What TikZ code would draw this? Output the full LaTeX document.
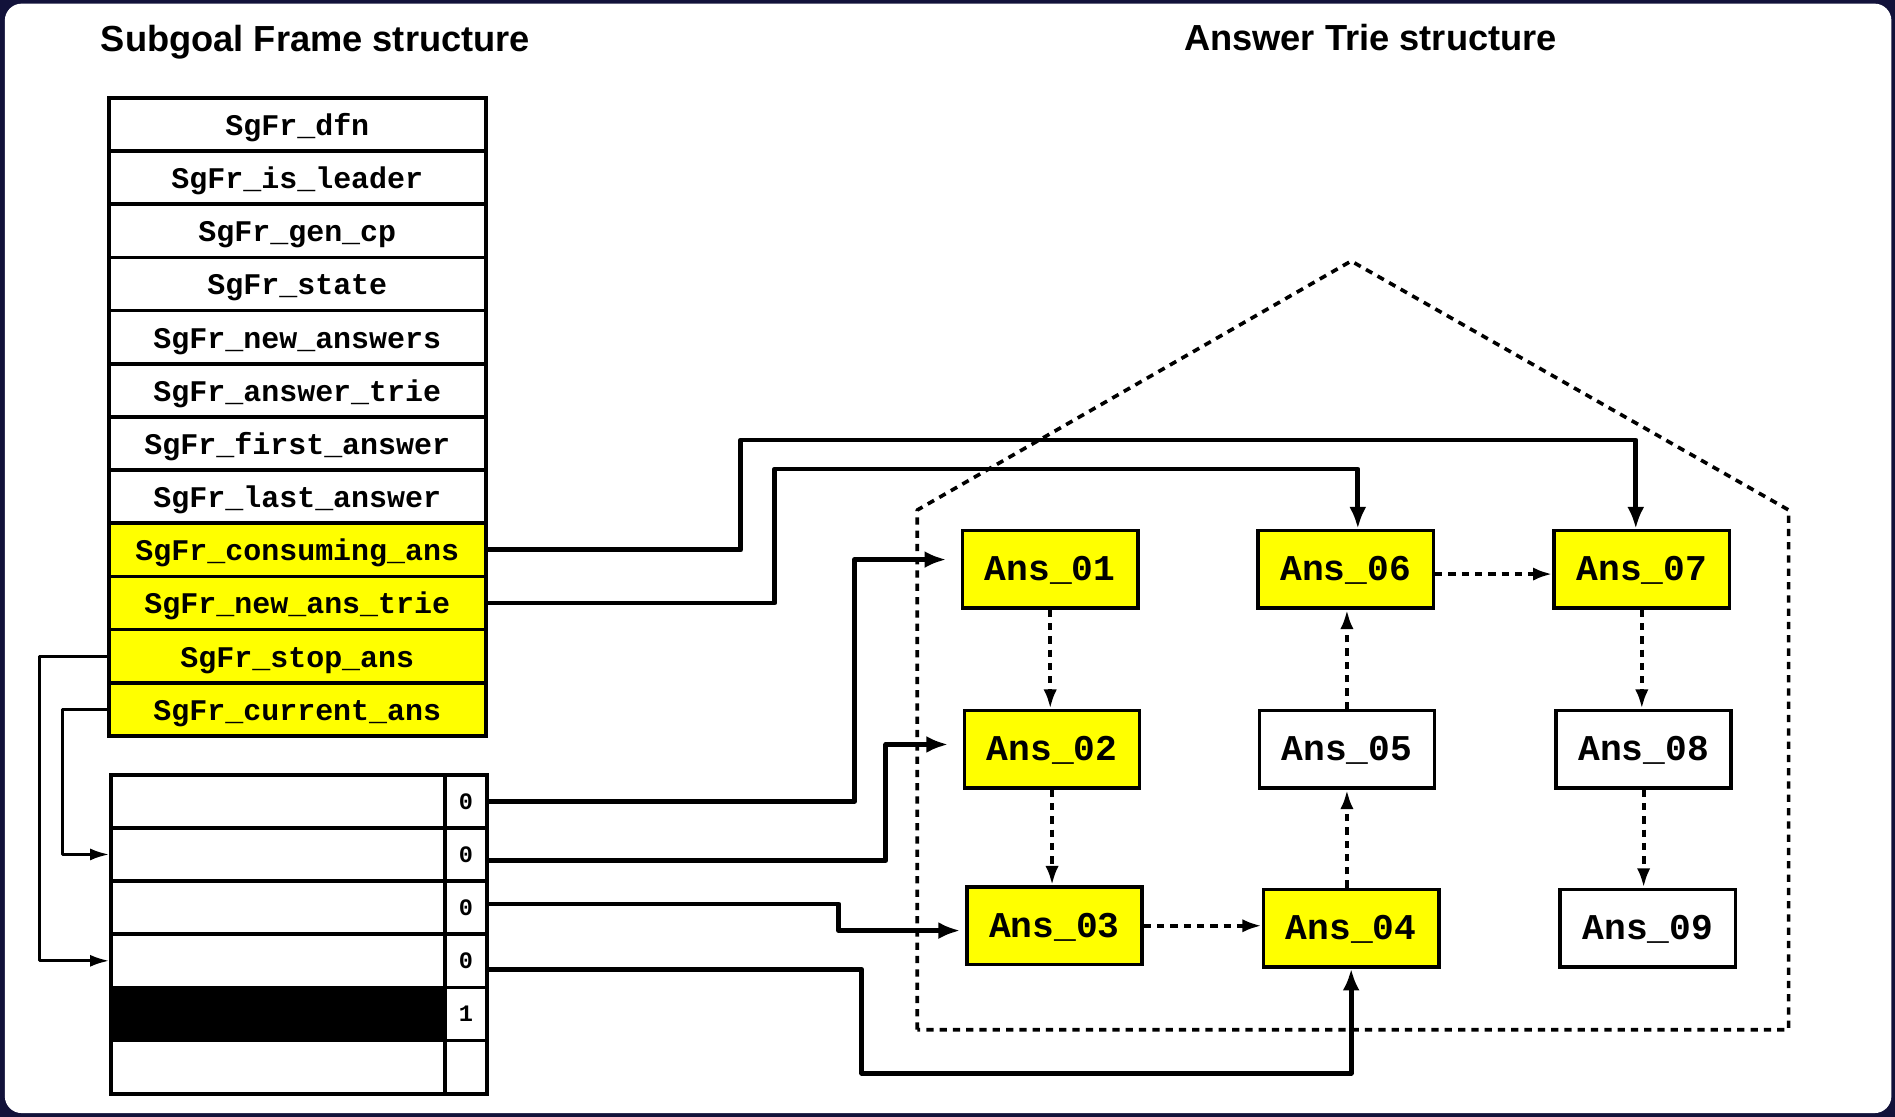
\documentclass[tikz,border=0pt]{standalone}
\usepackage{fontspec}
\setmainfont{Liberation Sans}
\setmonofont{Liberation Mono}
\usetikzlibrary{arrows.meta}
\definecolor{framebg}{RGB}{18,18,58}
\definecolor{hl}{RGB}{255,255,0}
\begin{document}
\begin{tikzpicture}[x=1pt,y=-1pt,
  fieldcell/.style={draw, line width=3pt, minimum width=312pt, minimum height=44pt, inner sep=0pt,
    text height=19pt, text depth=1pt,
    font=\ttfamily\bfseries\fontsize{24.8}{26}\selectfont},
  slotcell/.style={draw, line width=3pt, minimum width=276pt, minimum height=44pt, inner sep=0pt},
  flagcell/.style={draw, line width=3pt, minimum width=35pt, minimum height=44pt, inner sep=0pt,
    text height=14pt, text depth=1pt,
    font=\ttfamily\bfseries\fontsize{19.5}{20}\selectfont},
  ansbox/.style={draw, line width=3pt, minimum width=145pt, minimum height=64pt, inner sep=0pt,
    text height=21pt, text depth=2pt,
    font=\ttfamily\bfseries\fontsize{30}{32}\selectfont},
  title/.style={font=\bfseries\fontsize{30}{34}\selectfont},
  link/.style={line width=4pt, line join=round, -{Latex[length=18pt,width=14pt]}},
  chain/.style={line width=3.5pt, dash pattern=on 6pt off 5pt, -{Latex[length=16pt,width=11pt]}},
  back/.style={line width=2.5pt, line join=round, -{Latex[length=16pt,width=10pt]}},
  trie/.style={line width=3pt, dash pattern=on 6pt off 5pt, line join=round}
]
\useasboundingbox (0,0) rectangle (1568,924);
% frame
\fill[framebg] (0,0) rectangle (1568,924);
\fill[white, rounded corners=14pt] (4,3) rectangle (1565,921);

% titles
\node[title] (t1) at (261,35) {Subgoal Frame structure};
\node[title] (t2) at (1134,31) {Answer Trie structure};

% subgoal frame fields
\foreach \lab/\col [count=\i] in {SgFr\_dfn/white, SgFr\_is\_leader/white, SgFr\_gen\_cp/white,
    SgFr\_state/white, SgFr\_new\_answers/white, SgFr\_answer\_trie/white,
    SgFr\_first\_answer/white, SgFr\_last\_answer/white, SgFr\_consuming\_ans/hl,
    SgFr\_new\_ans\_trie/hl, SgFr\_stop\_ans/hl, SgFr\_current\_ans/hl}
  \node[fieldcell, fill=\col] (f\i) at (246,59+44*\i) {\lab};

% answer slots with flags
\foreach \val/\col [count=\i] in {0/white, 0/white, 0/white, 0/white, 1/black, /white} {
  \node[slotcell, fill=\col] (b\i) at (230,619+44*\i) {};
  \node[flagcell] (v\i) at (385.5,619+44*\i) {\val};
}

% answer trie boundary
\draw[trie] (759,852) -- (759,422) -- (1118,216) -- (1480,422) -- (1480,852) -- cycle;

% answer trie nodes
\node[ansbox, fill=hl]    (a01) at (869,471)    {Ans\_01};
\node[ansbox, fill=hl]    (a06) at (1113.5,471) {Ans\_06};
\node[ansbox, fill=hl]    (a07) at (1358.5,471) {Ans\_07};
\node[ansbox, fill=hl]    (a02) at (870.5,620)  {Ans\_02};
\node[ansbox, fill=white] (a05) at (1114.5,620) {Ans\_05};
\node[ansbox, fill=white] (a08) at (1360,620)   {Ans\_08};
\node[ansbox, fill=hl]    (a03) at (872.5,766)  {Ans\_03};
\node[ansbox, fill=hl]    (a04) at (1118,768)   {Ans\_04};
\node[ansbox, fill=white] (a09) at (1363.5,768) {Ans\_09};

% chain of answers
\draw[chain] (a01.south) -- (a01.south |- a02.north);
\draw[chain] (a02.south) -- (a02.south |- a03.north);
\draw[chain] (a03.east) -- (a03.east -| a04.west);
\draw[chain] (a05.south |- a04.north) -- (a05.south);
\draw[chain] (a05.north) -- (a05.north |- a06.south);
\draw[chain] ([yshift=-4pt]a06.east) -- ([yshift=-4pt]a06.east -| a07.west);
\draw[chain] (a07.south) -- (a07.south |- a08.north);
\draw[chain] (a08.south) -- (a08.south |- a09.north);

% bend points of the frame pointers
\coordinate (k1) at (613,364);
\coordinate (k2) at (641,388);
\coordinate (r1) at (707,463);
\coordinate (r2) at (733,616);
\coordinate (r3) at (694,770);
\coordinate (r4) at (713,888);
\coordinate (l1) at (33,0);
\coordinate (l2) at (52,0);

% frame pointers into the trie
\draw[link] (f9.east) -| (k1) -| ([xshift=-5pt]a07.north);
\draw[link] (f10.east) -| (k2) -| ([xshift=10pt]a06.north);
\draw[link, shorten >=12pt] (v1.east) -| (r1) -- (r1 -| a01.west);
\draw[link, shorten >=12pt] ([yshift=-5pt]v2.east) -| (r2) -- (r2 -| a02.west);
\draw[link, shorten >=4pt] ([yshift=3pt]v3.east) -| (r3) -- (r3 -| a03.west);
\draw[link] ([yshift=-7pt]v4.east) -| (r4) -| (a04.south);

% stop / current answer pointers
\draw[back] (f11.west) -- (f11.west -| l1) |- (b4.west);
\draw[back] (f12.west) -- (f12.west -| l2) |- (b2.west);
\end{tikzpicture}
\end{document}
